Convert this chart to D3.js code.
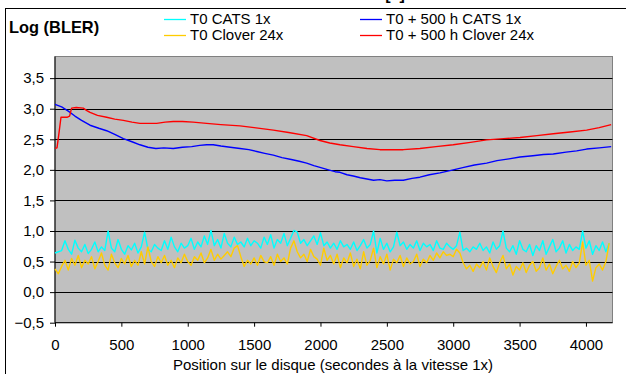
<!DOCTYPE html>
<html><head><meta charset="utf-8">
<script src="https://cdn.jsdelivr.net/npm/d3@7"></script>
<style>body{margin:0;background:#fff}svg{display:block}</style>
</head><body>
<script>
// ---- data ----
const seriesNames = ["T0 CATS 1x", "T0 + 500 h CATS 1x", "T0 Clover 24x", "T0 + 500 h Clover 24x"];
const seriesColors = ["#00FFFF", "#0000FF", "#FFCC00", "#FF0000"];
const yTicks = [-0.5, 0, 0.5, 1, 1.5, 2, 2.5, 3, 3.5];
const xTicks = [0, 500, 1000, 1500, 2000, 2500, 3000, 3500, 4000];
const sampleStep = 25;
const samplePositions = d3.range(0, 4200, sampleStep);
const catsT0 = [
0.64,0.66,0.68,0.84,0.70,0.62,0.85,0.72, 0.66,0.78,0.63,0.70,0.82,0.66,0.74,0.68,
1.00,0.72,0.66,0.86,0.70,0.62,0.76,0.69, 0.80,0.64,0.74,0.98,0.70,0.66,0.78,0.72,
0.68,0.84,0.70,0.90,0.74,0.66,0.80,0.72, 0.76,0.88,0.70,0.82,0.74,0.92,0.78,1.01,
0.76,0.86,0.72,0.96,0.80,0.74,0.90,0.78, 0.82,0.74,0.88,0.76,0.84,0.80,0.72,0.90,
0.78,0.94,0.72,0.86,0.80,0.96,0.76,0.88, 1.01,0.98,0.80,0.86,0.76,0.84,0.92,0.78,
0.97,0.76,0.82,0.72,0.80,0.70,0.84,0.74, 0.78,0.70,0.82,0.68,0.76,0.86,0.72,0.78,
1.00,0.64,0.88,0.70,0.80,0.66,0.74,0.98, 0.76,0.82,0.70,0.78,0.72,0.84,0.68,0.80,
0.74,0.78,0.68,0.84,0.72,0.70,0.80,0.74, 0.70,0.76,0.98,0.68,0.72,0.66,0.74,0.70,
0.80,0.68,0.74,0.64,0.82,0.70,0.76,1.00, 0.72,0.66,0.76,0.62,0.84,0.70,0.66,0.78,
0.60,0.76,0.68,0.84,0.62,0.74,0.86,0.66, 0.72,0.84,0.64,0.78,0.68,0.74,0.70,1.00,
0.72,0.84,0.62,0.76,0.68,0.82,0.66,0.80];
const cloverT0 = [
0.38,0.30,0.42,0.52,0.36,0.55,0.44,0.60, 0.40,0.52,0.46,0.58,0.38,0.50,0.64,0.44,
0.36,0.62,0.48,0.40,0.55,0.46,0.60,0.42, 0.52,0.44,0.66,0.46,0.74,0.50,0.42,0.58,
0.48,0.60,0.44,0.52,0.40,0.56,0.48,0.62, 0.50,0.44,0.58,0.52,0.64,0.48,0.56,0.70,
0.52,0.62,0.54,0.60,0.66,0.58,0.72,0.76, 0.58,0.42,0.52,0.46,0.56,0.44,0.60,0.50,
0.48,0.58,0.44,0.62,0.50,0.56,0.46,0.72, 0.84,0.66,0.56,0.62,0.50,0.70,0.58,0.54,
0.44,0.72,0.52,0.60,0.46,0.62,0.40,0.56, 0.48,0.64,0.42,0.54,0.38,0.66,0.44,0.52,
0.72,0.40,0.58,0.46,0.62,0.36,0.54,0.48, 0.60,0.42,0.56,0.46,0.50,0.62,0.42,0.54,
0.48,0.60,0.52,0.64,0.56,0.66,0.60,0.62, 0.58,0.70,0.64,0.48,0.38,0.44,0.34,0.46,
0.40,0.50,0.36,0.56,0.42,0.32,0.48,0.60, 0.38,0.46,0.28,0.42,0.36,0.48,0.32,0.44,
0.50,0.34,0.40,0.56,0.36,0.46,0.30,0.42, 0.52,0.38,0.44,0.34,0.50,0.40,0.48,0.82,
0.44,0.52,0.18,0.40,0.46,0.36,0.50,0.80];
const cats500x = [0,50,100,150,200,264,330,389,450,515,580,640,700,760,820,891,960,1030,1090,1142,1192,1250,1320,1394,1460,1520,1580,1645,1710,1780,1840,1896,1950,1996,2060,2110,2147,2200,2247,2300,2350,2400,2448,2500,2560,2624,2690,2749,2820,2900,3000,3080,3160,3252,3330,3420,3503,3600,3680,3754,3850,3930,4005,4100,4190];
const cats500y = [3.07,3.03,2.96,2.88,2.81,2.73,2.68,2.64,2.58,2.51,2.46,2.41,2.37,2.35,2.36,2.35,2.37,2.38,2.40,2.41,2.41,2.39,2.37,2.35,2.33,2.30,2.27,2.24,2.20,2.17,2.14,2.11,2.07,2.04,2.00,1.97,1.96,1.92,1.90,1.87,1.85,1.83,1.84,1.82,1.83,1.83,1.86,1.88,1.92,1.95,2.00,2.04,2.08,2.11,2.15,2.18,2.21,2.23,2.25,2.26,2.29,2.31,2.34,2.36,2.38];
const clover500x = [0,15,30,45,90,110,125,160,213,240,264,320,389,450,515,580,640,700,766,830,891,960,1040,1142,1250,1394,1500,1645,1760,1896,1996,2070,2147,2247,2350,2448,2540,2624,2749,2870,3000,3130,3252,3380,3503,3630,3754,3880,4005,4100,4190];
const clover500y = [2.35,2.36,2.60,2.86,2.86,2.88,3.01,3.02,3.01,2.97,2.94,2.89,2.86,2.83,2.81,2.78,2.76,2.76,2.76,2.78,2.79,2.79,2.78,2.76,2.74,2.72,2.69,2.65,2.61,2.56,2.48,2.44,2.41,2.38,2.35,2.33,2.33,2.33,2.35,2.38,2.41,2.45,2.49,2.51,2.53,2.56,2.59,2.62,2.65,2.69,2.74];

// ---- build ----
(function () {
const W = 626, H = 374;
const FONT = "'Liberation Sans', Arial, sans-serif";
const svg = d3.select("body").append("svg").attr("width", W).attr("height", H)
  .attr("font-family", FONT);

const pL = 55, pR = 612.5, pT = 56.5, pB = 322.7;
const x = d3.scaleLinear().domain([0, 4200]).range([pL, pR]);
const y = d3.scaleLinear().domain([-0.5, 3.854]).range([pB, pT]);

// outer frame
svg.append("rect").attr("x", 5.5).attr("y", 8.5).attr("width", 700).attr("height", 400)
  .attr("fill", "#fff").attr("stroke", "#000").attr("stroke-width", 1);

// title (cut off at the top edge, as in the reference)
svg.append("text").attr("x", 395).attr("y", 0).attr("text-anchor", "middle")
  .attr("font-family", FONT).attr("font-weight", "bold").attr("font-size", 16).text("[1]");

// plot area
svg.append("rect").attr("x", pL).attr("y", pT).attr("width", pR - pL).attr("height", pB - pT)
  .attr("fill", "#C0C0C0").attr("stroke", "#808080").attr("stroke-width", 1);

// gridlines
svg.append("g").selectAll("line").data(yTicks.filter(v => v > -0.5)).join("line")
  .attr("x1", pL).attr("x2", pR)
  .attr("y1", d => Math.round(y(d)) + 0.5).attr("y2", d => Math.round(y(d)) + 0.5)
  .attr("stroke", "#000").attr("stroke-width", 1);

// axes
const yAxis = d3.axisLeft(y).tickValues(yTicks).tickSize(5).tickPadding(6)
  .tickFormat(d => d3.format(".1f")(d).replace(".", ","));
const gy = svg.append("g").attr("transform", `translate(${pL},0)`).call(yAxis);
gy.select(".domain").attr("stroke", "#000").attr("d", `M0,${pT}V${pB}`);
gy.selectAll(".tick text").attr("font-size", 15).attr("fill", "#000").attr("font-family", FONT);

const xAxis = d3.axisBottom(x).tickValues(xTicks).tickSize(4).tickPadding(12.5).tickFormat(d3.format("d"));
const gx = svg.append("g").attr("transform", `translate(0,${pB})`).call(xAxis);
gx.select(".domain").attr("d", `M${pL},0H${pR}`).attr("stroke", "#000");
gx.selectAll(".tick text").attr("font-size", 15).attr("fill", "#000").attr("font-family", FONT);

// series
const line = d3.line().x(d => x(d[0])).y(d => y(d[1]));
const seriesData = [
  samplePositions.map((p, i) => [p, catsT0[i]]),
  cats500x.map((p, i) => [p, cats500y[i]]),
  samplePositions.map((p, i) => [p, cloverT0[i]]),
  clover500x.map((p, i) => [p, clover500y[i]])
];
svg.append("g").selectAll("path").data(seriesData).join("path")
  .attr("d", line).attr("fill", "none")
  .attr("stroke", (d, i) => seriesColors[i]).attr("stroke-width", 1.4)
  .attr("stroke-linejoin", "round");

// axis titles
svg.append("text").attr("x", 333).attr("y", 370).attr("text-anchor", "middle")
  .attr("font-family", FONT).attr("font-size", 15).text("Position sur le disque (secondes à la vitesse 1x)");
svg.append("text").attr("x", 9).attr("y", 33.3).attr("font-weight", "bold")
  .attr("font-family", FONT).attr("font-size", 16.4).text("Log (BLER)");

// legend (row-wise: cyan, blue / gold, red)
const legPos = [[164, 19.5], [360, 19.5], [164, 35.5], [360, 35.5]];
const lg = svg.append("g").selectAll("g").data(seriesNames).join("g")
  .attr("transform", (d, i) => `translate(${legPos[i][0]},${legPos[i][1]})`);
lg.append("line").attr("x1", 0).attr("x2", 22).attr("y1", 0).attr("y2", 0)
  .attr("stroke", (d, i) => seriesColors[i]).attr("stroke-width", 1.3);
lg.append("text").attr("x", 26).attr("y", 4.7).attr("font-size", 15)
  .attr("font-family", FONT).text(d => d);
})();
</script>
</body></html>
